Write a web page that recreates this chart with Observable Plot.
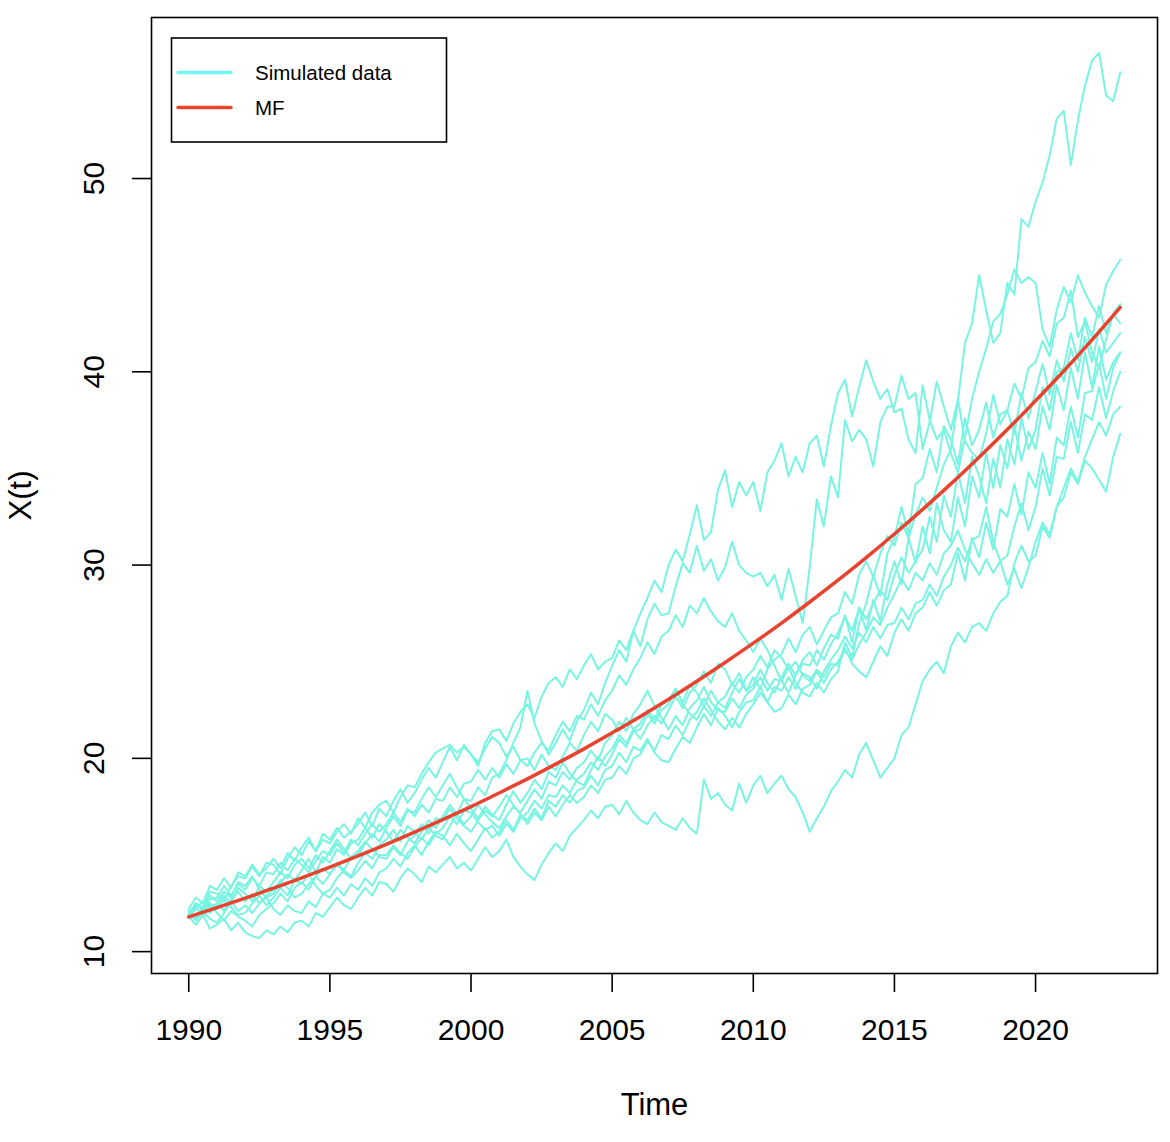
<!DOCTYPE html>
<html>
<head>
<meta charset="utf-8">
<script src="https://cdn.jsdelivr.net/npm/d3@7"></script>
<script src="https://cdn.jsdelivr.net/npm/@observablehq/plot@0.6"></script>
<style>
  html, body { margin: 0; padding: 0; background: #fff; }
  #wrap { position: relative; width: 1170px; height: 1142px; }
  #legend { position: absolute; left: 0; top: 0; pointer-events: none; }
</style>
</head>
<body>
<div id="wrap"></div>
<script>
// ---- data (quarterly values, 1990.00 .. 2023.00) ----
const startYear = 1990;
const step = 0.25;

const path0 = [12.0,12.4,12.2,12.9, 12.6,13.1,12.8,13.6, 13.4,13.9,13.2,12.8, 13.0,13.6,14.0,13.7, 14.2,14.8,14.1,14.9,
  14.6,15.3,15.0,15.6, 15.8,16.4,15.9,16.6, 16.2,15.7,16.3,15.9, 15.6,16.2,16.8,16.4, 17.0,17.6,17.1,17.9,
  17.4,16.9,17.5,17.1, 16.8,17.6,18.3,17.7, 18.2,18.9,18.4,19.3, 19.0,19.8,19.2,18.8, 18.6,19.4,20.1,19.6,
  20.2,21.0,20.6,21.4, 21.5,22.3,21.8,22.5, 22.8,23.6,22.9,23.8, 23.4,22.7,23.5,22.9, 22.6,23.4,24.1,23.5,
  24.2,23.6,24.6,25.1, 25.4,26.2,25.5,26.4, 26.8,25.9,26.6,27.3, 27.5,28.6,28.0,29.5, 30.2,29.4,30.6,31.5,
  31.0,32.2,31.4,32.6, 33.5,32.8,34.0,35.2, 36.0,38.5,41.5,42.5, 45.0,43.2,41.5,42.0, 44.6,44.0,47.9,47.5,
  48.8,49.8,51.2,53.1, 53.5,50.7,53.0,54.8, 56.1,56.5,54.3,54.0, 55.5];

const path1 = [11.9,12.5,12.3,13.1, 13.0,12.6,13.4,13.9, 13.8,14.4,13.9,14.6, 14.5,14.0,14.8,15.4, 15.0,15.7,15.2,16.1,
  15.8,16.4,15.9,16.2, 16.6,17.2,16.5,17.4, 17.0,17.8,18.4,17.7, 18.2,18.9,19.5,19.0, 19.8,20.6,19.9,20.7,
  20.2,19.6,20.8,21.4, 21.5,20.9,21.8,22.4, 22.8,22.1,23.2,23.9, 24.2,23.7,24.6,24.1, 24.8,25.4,24.6,25.0,
  25.2,26.1,25.6,26.6, 27.5,28.3,29.2,28.6, 30.0,30.8,30.2,31.6, 33.1,31.3,31.7,33.9, 34.9,33.0,34.3,33.6,
  34.3,32.8,34.8,35.4, 36.3,34.6,35.6,34.8, 36.3,36.7,35.1,37.2, 38.9,39.6,37.7,39.2, 40.6,39.5,38.6,39.1,
  37.9,38.1,36.5,35.8, 39.3,37.5,36.5,37.0, 35.8,34.8,36.6,38.6, 40.0,41.2,42.6,43.0, 44.0,45.3,44.6,44.9,
  44.6,42.2,41.3,43.2, 44.4,43.6,45.0,44.1, 43.4,42.8,44.5,45.2, 45.8];

const path2 = [12.1,11.7,12.3,12.0, 12.4,12.9,12.5,13.3, 13.0,12.6,13.4,13.1, 13.6,14.1,13.8,14.5, 14.8,14.3,15.0,14.6,
  15.2,15.8,15.3,14.8, 15.0,15.6,16.1,15.7, 16.4,17.0,16.5,17.3, 17.2,17.9,18.5,18.0, 18.6,19.2,18.5,17.9,
  17.8,18.5,18.1,19.0, 19.2,19.9,20.8,21.6, 23.5,21.8,20.9,20.2, 20.8,21.5,20.9,21.9, 22.5,23.4,22.8,23.9,
  24.8,25.6,25.0,26.6, 25.8,27.2,28.0,27.4, 27.5,28.9,30.1,29.6, 31.0,29.7,30.3,29.2, 29.9,31.2,30.0,29.6,
  29.4,29.6,28.9,29.5, 28.2,29.8,28.4,27.0, 29.9,33.4,32.0,34.6, 33.5,37.5,36.4,37.0, 36.5,35.1,37.4,38.2,
  38.2,39.8,38.6,38.9, 36.0,37.4,39.5,38.2, 37.0,38.6,36.4,35.8, 35.5,36.8,38.8,37.3, 38.0,39.4,38.6,40.2,
  40.5,41.6,40.8,42.5, 42.8,44.2,41.8,42.6, 41.0,40.2,41.7,43.0, 42.5];

const path3 = [11.8,11.4,11.9,11.2, 11.4,11.7,11.1,11.5, 11.0,10.8,10.7,11.1, 10.9,11.3,11.0,11.5, 11.6,11.3,12.0,11.8,
  12.3,12.8,12.4,12.2, 12.8,13.3,12.9,13.6, 13.5,13.1,13.8,14.3, 14.0,13.6,14.4,14.1, 14.5,14.9,14.3,14.6,
  14.2,14.8,15.4,14.9, 15.2,15.8,14.9,14.4, 14.0,13.7,14.5,15.1, 15.6,15.2,16.0,16.4, 16.8,17.3,16.9,17.5,
  17.6,17.1,17.8,17.2, 16.8,16.6,17.2,16.7, 16.5,16.3,16.9,16.4, 16.1,18.9,17.9,18.2, 17.6,17.3,18.7,17.7,
  18.6,19.1,18.2,18.7, 19.1,18.4,18.0,17.2, 16.2,16.9,17.5,18.3, 18.8,19.4,19.0,20.2, 20.8,19.9,19.0,19.5,
  20.0,21.2,21.6,22.8, 24.0,24.6,25.0,24.4, 25.8,26.5,26.0,26.8, 27.0,26.6,27.5,28.1, 28.4,30.1,31.0,30.2,
  30.5,32.0,31.4,33.0, 33.5,34.8,34.2,35.4, 35.0,34.4,33.8,35.6, 36.8];

const path4 = [12.2,12.8,12.5,13.4, 13.2,13.8,13.3,14.1, 13.9,14.5,14.0,14.3, 14.8,14.3,15.1,14.7, 15.4,15.9,15.2,15.8,
  15.6,16.2,16.6,16.1, 16.9,16.4,17.2,17.6, 17.8,17.2,18.0,18.6, 18.5,19.2,19.8,20.3, 20.5,20.7,20.3,20.6,
  20.2,19.8,20.5,21.1, 20.8,20.1,20.6,19.9, 20.0,19.4,20.2,19.6, 19.4,20.1,20.8,20.4, 21.2,21.9,21.4,22.3,
  22.0,21.4,22.1,21.5, 21.0,21.7,22.2,21.8, 22.5,23.2,22.6,23.4, 23.8,24.5,23.9,24.9, 24.6,23.8,24.4,23.5,
  23.8,24.6,23.9,23.4, 24.2,24.9,24.3,25.1, 25.5,24.8,25.7,26.4, 26.2,27.4,26.0,27.8, 26.6,28.2,27.1,29.0,
  30.2,29.0,31.4,30.1, 32.0,30.6,33.2,31.8, 31.2,33.5,32.0,34.6, 33.5,35.8,34.0,36.2, 35.0,37.2,35.4,36.9,
  36.0,38.2,37.0,39.3, 38.0,40.2,38.6,41.0, 39.2,41.3,39.6,40.5, 41.0];

const path5 = [11.9,12.3,11.8,12.5, 12.2,12.7,12.3,11.9, 12.0,12.5,12.9,12.4, 12.8,13.3,12.9,13.7, 13.5,14.0,13.4,13.0,
  13.2,13.8,14.2,13.9, 14.6,15.1,14.8,15.5, 15.8,16.3,15.7,16.5, 16.2,15.8,16.4,16.0, 15.8,16.5,17.1,16.6,
  17.0,17.6,17.1,16.7, 16.4,17.0,17.5,17.2, 17.8,18.4,17.9,18.8, 18.6,19.3,18.9,19.5, 19.8,20.4,19.9,20.8,
  21.2,21.9,21.4,22.3, 22.8,23.5,22.7,22.1, 21.5,22.2,21.7,22.6, 23.0,23.7,22.9,22.5, 22.4,23.1,22.6,23.3,
  23.6,24.2,23.5,24.1, 24.0,23.4,24.3,24.9, 24.8,25.6,25.1,25.9, 26.5,27.3,26.6,27.8, 27.2,28.0,28.7,28.2,
  29.5,30.4,29.6,30.2, 30.8,32.5,31.2,33.6, 32.5,34.8,33.2,35.6, 34.6,33.2,35.5,34.0, 36.5,35.2,37.6,36.0,
  37.0,39.2,38.0,40.0, 40.2,42.0,40.6,42.8, 41.8,43.4,42.0,43.0, 43.5];

const path6 = [12.0,11.6,12.1,11.7, 11.5,12.0,12.6,12.1, 12.4,12.0,12.5,12.8, 12.2,11.9,12.4,12.1, 12.0,12.6,12.3,13.0,
  12.8,13.3,12.9,13.5, 13.2,13.8,13.4,14.1, 14.3,14.8,14.4,15.1, 15.5,15.0,15.7,16.2, 16.0,15.5,16.1,15.6,
  15.2,15.8,16.4,15.9, 16.2,16.8,16.3,17.1, 16.8,17.4,16.9,17.8, 17.5,18.1,17.7,18.3, 18.5,19.1,18.6,19.4,
  19.6,20.3,19.8,20.6, 20.4,21.0,20.3,19.9, 19.8,20.5,21.1,20.8, 21.6,22.3,21.7,22.6, 22.2,21.6,22.4,22.9,
  23.0,23.7,22.9,22.4, 22.6,23.3,22.8,23.6, 23.8,24.5,23.9,24.6, 25.0,25.7,24.9,24.5, 24.2,25.0,25.8,25.3,
  26.5,27.2,26.6,27.5, 27.8,28.6,27.9,28.7, 29.0,30.6,29.2,31.4, 30.4,32.2,30.8,32.9, 32.5,34.2,32.6,34.8,
  34.0,35.8,34.2,36.6, 36.2,38.2,36.6,38.9, 39.0,40.4,38.6,40.2, 41.0];

const path7 = [11.8,12.2,12.6,12.3, 12.5,12.1,12.7,13.1, 12.6,13.0,12.5,12.9, 13.2,13.7,13.3,12.8, 13.0,13.5,13.9,13.5,
  14.0,14.6,14.2,14.9, 15.2,15.7,15.3,14.9, 14.8,15.4,15.0,15.7, 16.0,16.6,16.1,16.9, 16.8,17.4,16.9,16.5,
  16.2,16.8,17.3,17.0, 17.5,18.1,17.6,17.1, 16.6,17.2,16.8,17.5, 17.0,17.6,18.1,17.7, 18.0,18.6,18.2,18.9,
  19.0,19.6,19.2,20.0, 20.2,20.9,20.4,21.2, 21.0,21.7,21.2,22.0, 22.4,23.1,22.5,21.9, 21.5,22.1,21.6,22.3,
  22.8,23.4,22.9,23.7, 23.5,24.2,23.6,24.4, 24.2,23.6,24.5,25.1, 25.6,26.3,25.7,26.5, 26.0,26.8,26.2,26.9,
  27.0,27.8,27.2,28.0, 28.2,29.0,28.4,29.4, 30.0,30.9,30.2,31.3, 31.5,33.0,31.2,30.2, 30.5,32.0,33.2,31.8,
  33.0,35.0,33.6,35.6, 35.5,37.4,35.8,37.8, 37.5,39.2,37.6,39.0, 40.0];

const path8 = [12.1,11.7,12.2,12.5, 12.0,11.6,12.1,11.8, 11.6,11.3,11.9,12.2, 12.5,13.0,12.6,13.3, 13.6,13.2,13.9,14.3,
  14.0,14.5,14.1,13.8, 14.2,14.7,14.3,15.0, 15.0,15.5,15.1,14.8, 15.4,15.9,15.5,16.1, 16.4,17.0,16.6,17.3,
  17.2,16.7,16.3,16.5, 16.0,16.6,16.2,16.9, 17.2,17.8,17.4,18.1, 18.0,18.6,18.2,18.9, 19.2,19.8,19.4,20.1,
  20.5,21.2,20.8,21.5, 21.8,22.5,22.0,22.8, 23.0,23.6,22.8,22.3, 22.0,22.7,22.2,22.9, 23.2,23.9,23.4,24.2,
  24.6,25.3,24.7,25.6, 25.2,24.6,25.0,24.3, 24.0,24.6,24.2,24.9, 24.8,25.6,25.1,25.9, 26.5,27.3,26.9,27.8,
  28.5,29.3,28.7,29.6, 29.2,30.1,29.5,30.6, 31.0,31.8,30.8,30.1, 29.5,30.3,29.6,30.2, 29.0,29.8,28.8,29.9,
  31.2,32.2,31.6,33.0, 34.0,35.0,34.3,35.6, 36.5,37.4,36.7,37.8, 38.2];

const path9 = [11.9,12.5,12.1,12.7, 12.8,13.4,12.9,13.5, 13.2,13.8,13.4,14.1, 14.0,14.6,14.2,14.8, 14.5,14.1,14.7,15.2,
  15.0,15.6,15.1,15.8, 15.5,16.1,16.6,16.2, 16.6,17.2,16.7,17.4, 17.0,17.6,17.2,17.9, 17.8,18.5,18.0,18.7,
  18.8,19.4,18.9,19.5, 19.0,19.7,19.2,19.9, 19.6,20.3,20.8,20.4, 21.2,21.9,21.4,22.2, 22.0,22.8,22.2,23.0,
  23.5,24.3,23.8,24.6, 25.2,26.0,25.4,26.3, 26.6,27.4,26.8,27.9, 27.5,28.3,27.6,27.1, 26.8,27.5,26.6,26.1,
  25.5,26.2,25.6,24.8, 24.0,24.7,23.9,23.4, 23.2,23.9,23.4,24.1, 24.5,26.0,25.2,27.0, 28.0,29.5,28.4,30.6,
  31.4,33.0,31.6,34.2, 34.5,36.0,34.8,37.2, 36.5,35.2,37.6,36.2, 37.0,38.4,36.6,37.8, 38.0,36.8,38.9,37.6,
  39.0,40.4,38.8,40.6, 39.5,41.2,40.0,41.8, 40.5,42.2,41.0,41.5, 42.0];

// MF curve, yearly values 1990 .. 2023
const mfValues = [11.80,12.28,12.77,13.28,13.82,14.37,14.95,15.55,16.18,16.83,17.50,18.21,18.94,19.70,20.49,21.32,22.17,
  23.06,23.99,24.96,25.96,27.00,28.09,29.22,30.39,31.61,32.88,34.20,35.58,37.01,38.50,40.04,41.65,43.33];

const xTicks = [1990, 1995, 2000, 2005, 2010, 2015, 2020];
const yTicks = [10, 20, 30, 40, 50];
const seriesNames = ["Simulated data", "MF"];
const xLabel = "Time";
const yLabel = "X(t)";

// ---- build tables ----
const paths = [path0, path1, path2, path3, path4, path5, path6, path7, path8, path9];
const sim = [];
paths.forEach((p, i) => p.forEach((v, j) => sim.push({ t: startYear + j * step, v, id: i })));
const mf = mfValues.map((v, j) => ({ t: startYear + j, v }));

const SIM = "#78F4E2";
const SIM_LEG = "#72F6F6";
const RED = "#E8432E";
const FONT = "'Liberation Sans', Arial, Helvetica, sans-serif";

// R-style 4% range extension
const xr = [startYear, startYear + (path0.length - 1) * step];
const allV = sim.map(d => d.v);
const yr = [d3.min(allV), d3.max(allV)];
const xPad = (xr[1] - xr[0]) * 0.04, yPad = (yr[1] - yr[0]) * 0.04;

const chart = Plot.plot({
  width: 1170,
  height: 1142,
  marginLeft: 151,
  marginRight: 13,
  marginTop: 17,
  marginBottom: 169,
  style: { fontFamily: FONT, background: "#fff", color: "#000" },
  x: { domain: [xr[0] - xPad, xr[1] + xPad], label: null },
  y: { domain: [yr[0] - yPad, yr[1] + yPad], label: null },
  marks: [
    Plot.line(sim, { x: "t", y: "v", z: "id", stroke: SIM, strokeWidth: 2, strokeLinejoin: "round" }),
    Plot.line(mf, { x: "t", y: "v", stroke: RED, strokeWidth: 3.5, curve: "catmull-rom" }),
    Plot.frame({ stroke: "#000", strokeWidth: 1.6 }),
    Plot.axisX({ ticks: xTicks, tickSize: 19, tickPadding: 26, fontSize: 30, strokeWidth: 1.6,
      tickFormat: d => String(d), label: null }),
    Plot.axisY({ ticks: yTicks, tickSize: 19, strokeWidth: 1.6, tickFormat: () => "", label: null }),
    Plot.text(yTicks, { y: d => d, text: d => String(d), frameAnchor: "left", dx: -57, rotate: -90,
      textAnchor: "middle", lineAnchor: "middle", fontSize: 30, fill: "#000" }),
    Plot.text([xLabel], { text: d => d, frameAnchor: "bottom", dy: 132, lineAnchor: "middle",
      textAnchor: "middle", fontSize: 31, fill: "#000" }),
    Plot.text([yLabel], { text: d => d, frameAnchor: "left", dx: -130, rotate: -90, lineAnchor: "middle",
      textAnchor: "middle", fontSize: 31, fill: "#000" })
  ]
});

const wrap = document.getElementById("wrap");
wrap.appendChild(chart);

// ---- legend (overlaid inside the plot, as in the reference) ----
const leg = d3.select(wrap).append("svg").attr("id", "legend").attr("width", 1170).attr("height", 1142);
leg.append("rect").attr("x", 171.5).attr("y", 38).attr("width", 275).attr("height", 104)
  .attr("fill", "#fff").attr("stroke", "#000").attr("stroke-width", 1.6);
const legColors = [SIM_LEG, RED];
seriesNames.forEach((name, i) => {
  const cy = 72.5 + i * 35;
  leg.append("line").attr("x1", 178).attr("x2", 231).attr("y1", cy).attr("y2", cy)
    .attr("stroke", legColors[i]).attr("stroke-width", 3.5).attr("stroke-linecap", "round");
  leg.append("text").attr("x", 255).attr("y", cy).attr("dy", "0.35em")
    .attr("font-family", FONT).attr("font-size", 20.5).attr("fill", "#000").text(name);
});
</script>
</body>
</html>
